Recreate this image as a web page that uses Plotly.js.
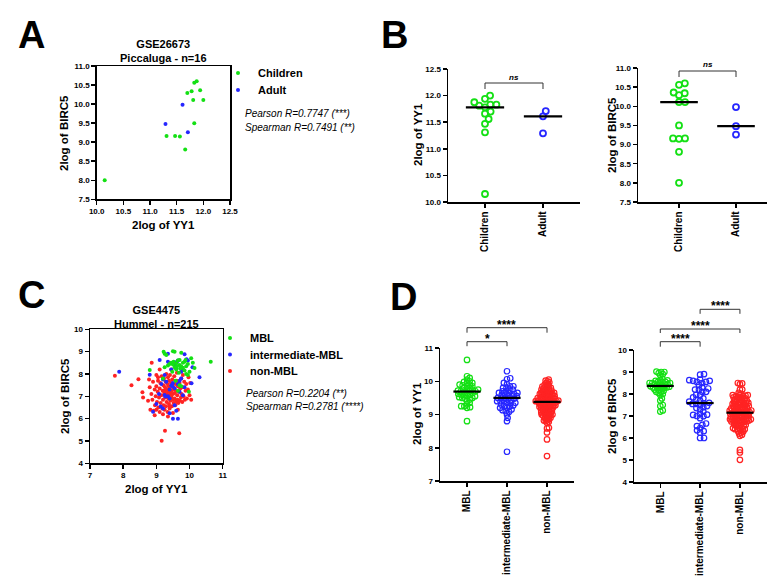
<!DOCTYPE html>
<html>
<head>
<meta charset="utf-8">
<script src="https://cdn.plot.ly/plotly-3.0.1.min.js"></script>
<style>body{margin:0;background:#fff}#chart{width:784px;height:587px}</style>
</head>
<body>
<div id="chart"></div>
<script>
// ---- GSE26673 (Piccaluga, n=16) ----
let childYY1 = [10.15, 11.875, 11.83, 11.78, 11.70, 11.94, 11.81, 12.00, 11.83, 11.31, 11.47, 11.56, 11.66]
let childBIRC5 = [8.00, 10.60, 10.56, 10.34, 10.29, 10.36, 10.11, 10.11, 9.50, 9.16, 9.16, 9.15, 8.81]
let adultYY1 = [11.61, 11.29, 11.71]
let adultBIRC5 = [9.98, 9.48, 9.26]

// ---- GSE4475 (Hummel, n=215) ----
let mblYY1 = [10.64, 8.80, 9.22, 9.25, 9.50, 9.55, 9.75, 9.30, 10.05, 10.15,
	9.85, 9.45, 9.40, 9.50, 9.60, 9.70, 9.80, 9.90, 9.65, 9.55,
	9.75, 9.95, 9.35, 9.70, 9.60, 9.85, 9.72, 10.00, 9.48, 9.68,
	9.90, 9.25, 9.80, 9.20, 9.95, 9.58, 9.70, 9.75, 9.98, 9.65,
	10.10, 9.88, 9.52, 9.62]
let mblBIRC5 = [8.55, 8.18, 9.00, 8.90, 9.02, 9.00, 8.95, 8.85, 8.70, 8.27,
	8.55, 8.50, 8.45, 8.42, 8.48, 8.40, 8.50, 8.35, 8.60, 8.30,
	8.33, 8.45, 8.38, 8.62, 8.20, 8.15, 8.25, 8.10, 8.10, 8.05,
	8.00, 8.30, 8.28, 7.80, 7.95, 7.70, 7.50, 7.45, 7.20, 7.25,
	8.50, 8.62, 8.55, 8.35]
let interYY1 = [7.88, 9.10, 9.35, 9.85, 9.91, 10.30, 10.06, 8.80, 9.35, 9.60,
	9.75, 9.25, 9.27, 9.55, 9.13, 9.40, 9.50, 9.65, 8.90, 9.00,
	10.09, 9.95, 9.80, 9.45, 9.50, 9.55, 9.70, 9.20, 9.45, 9.65,
	9.30, 9.60, 9.40, 9.85, 9.08, 9.50, 9.75, 9.35, 9.55, 9.70,
	9.20, 9.62, 9.48, 9.80, 9.25, 9.40, 9.65, 9.15]
let interBIRC5 = [8.10, 8.63, 8.90, 8.88, 8.66, 7.85, 7.58, 7.96, 8.55, 8.25,
	7.80, 7.06, 6.99, 7.36, 6.54, 6.24, 6.00, 6.00, 6.31, 6.66,
	8.30, 8.60, 7.05, 7.50, 7.60, 8.40, 7.20, 7.75, 8.20, 7.55,
	7.65, 6.35, 6.90, 7.40, 7.10, 8.50, 8.10, 7.00, 6.60, 7.70,
	6.45, 8.55, 7.45, 8.20, 7.95, 7.30, 8.60, 7.55]
let nonYY1 = [7.75, 8.25, 8.46, 8.58, 8.60, 8.86, 9.26, 9.69, 9.16, 9.40, 9.45,
	8.75, 8.80, 8.82, 8.85, 8.88, 8.90, 8.92, 8.95, 8.96, 8.98,
	9.00, 9.00, 9.02, 9.04, 9.05, 9.06, 9.08, 9.10, 9.10, 9.12,
	9.13, 9.15, 9.16, 9.18, 9.19, 9.20, 9.21, 9.22, 9.23, 9.24,
	9.25, 9.26, 9.27, 9.28, 9.29, 9.30, 9.30, 9.31, 9.32, 9.33,
	9.34, 9.35, 9.35, 9.36, 9.37, 9.38, 9.38, 9.39, 9.40, 9.40,
	9.41, 9.42, 9.43, 9.44, 9.45, 9.46, 9.47, 9.48, 9.48, 9.49,
	9.50, 9.51, 9.52, 9.53, 9.54, 9.55, 9.56, 9.57, 9.58, 9.59,
	9.60, 9.61, 9.62, 9.63, 9.64, 9.65, 9.66, 9.68, 9.70, 9.71,
	9.72, 9.74, 9.75, 9.76, 9.78, 9.80, 9.82, 9.84, 9.86, 9.88,
	9.90, 9.92, 9.95, 9.97, 10.00, 10.02, 10.05, 9.20, 9.50, 9.10,
	9.00, 8.95, 9.35, 9.55, 9.62, 9.80, 8.78, 9.45, 9.25, 9.65,
	9.05, 9.40]
let nonBIRC5 = [7.92, 7.50, 7.76, 7.18, 6.95, 8.50, 5.46, 5.34, 5.01, 8.48, 8.20,
	6.80, 7.40, 6.40, 7.10, 6.85, 7.65, 6.35, 7.30, 6.60, 7.00,
	7.45, 6.40, 6.75, 7.20, 7.70, 6.50, 6.95, 7.35, 6.30, 7.60,
	6.70, 7.05, 7.90, 6.45, 7.25, 6.85, 7.50, 6.60, 7.80, 7.15,
	6.40, 7.40, 6.95, 7.65, 6.55, 7.30, 8.00, 6.75, 7.10, 7.55,
	6.30, 7.20, 7.85, 6.90, 7.45, 6.65, 7.70, 7.05, 6.45, 7.35,
	7.95, 6.80, 7.15, 7.60, 6.95, 7.25, 6.55, 7.50, 7.75, 6.85,
	7.10, 7.40, 6.70, 7.30, 7.90, 6.90, 7.15, 6.60, 7.55, 6.80,
	7.25, 7.70, 6.75, 7.05, 6.85, 7.45, 6.70, 7.20, 7.60, 6.80,
	7.35, 6.95, 7.80, 7.10, 6.75, 7.40, 7.00, 7.65, 6.85, 7.25,
	7.55, 6.90, 7.30, 7.85, 7.05, 7.60, 6.85, 6.20, 6.25, 8.20,
	7.95, 6.15, 6.10, 8.45, 8.05, 7.95, 7.75, 7.00, 7.25, 6.40,
	7.85, 6.55]

let ageGroups = ["Children", "Adult"]
let mblGroups = ["MBL", "intermediate-MBL", "non-MBL"]

let GREEN = "#14e014"
let BLUE = "#2626ff"
let RED = "#ff2323"
let FONT = "Liberation Sans, Arial, sans-serif"

const W = 784, H = 587

//Panel boxes in pixels: left, right, top, bottom of the plot area, plus axis ranges.
let panels = {
	A: {n: "", l: 96.7, r: 230, t: 66, b: 199.3, xr: [10, 12.5], yr: [7.5, 11]},
	B1: {n: "2", l: 448, r: 580, t: 69, b: 202, xr: [-0.638, 1.638], yr: [10, 12.5]},
	B2: {n: "3", l: 638, r: 767, t: 68, b: 202, xr: [-0.72, 1.544], yr: [7.5, 11]},
	C: {n: "4", l: 90, r: 222.7, t: 329.3, b: 463.3, xr: [7, 11], yr: [4, 10]},
	D1: {n: "5", l: 440, r: 574, t: 348, b: 481, xr: [-0.675, 2.675], yr: [7, 11]},
	D2: {n: "6", l: 634, r: 767, t: 350, b: 482, xr: [-0.66, 2.68], yr: [4, 10]},
}

function pxPerX(p) { return (p.r - p.l) / (p.xr[1] - p.xr[0]) }
function pxPerY(p) { return (p.b - p.t) / (p.yr[1] - p.yr[0]) }
function catPx(p, i) { return p.l + (i - p.xr[0]) * pxPerX(p) }

function median(vals) {
	let s = vals.slice().sort((a, b) => a - b)
	let m = Math.floor(s.length / 2)
	return s.length % 2 ? s[m] : (s[m - 1] + s[m]) / 2
}

//Beeswarm: pixel offsets so that markers don't sit on top of each other.
function swarm(vals, d, p) {
	let ky = pxPerY(p)
	let order = vals.map((v, i) => i).sort((a, b) => vals[a] - vals[b])
	let placed = []
	let off = new Array(vals.length)
	order.forEach((i) => {
		let y = vals[i] * ky
		let cands = [0]
		placed.forEach((q) => {
			let dy = Math.abs(q.y - y)
			if (dy < d) {
				let dx = Math.sqrt(d * d - dy * dy)
				cands.push(q.x + dx, q.x - dx)
			}
		})
		cands.sort((a, b) => Math.abs(a) - Math.abs(b))
		let x = cands.find((c) => placed.every((q) => (q.x - c) ** 2 + (q.y - y) ** 2 >= d * d - 1e-6))
		placed.push({x: x, y: y})
		off[i] = x
	})
	return off
}

//Shrink spacing until the swarm fits in +-maxPx (GraphPad keeps columns narrow).
function fitSwarm(vals, d, p, maxPx) {
	let off = swarm(vals, d, p)
	while (Math.max(...off.map(Math.abs)) > maxPx && d > 0.5) {
		d *= 0.93
		off = swarm(vals, d, p)
	}
	return off.map((o) => o / pxPerX(p))
}

let data = []

let legendNames = ["legend", "legend2", "legend3", "legend4", "legend5"]
function scatterTrace(p, xs, ys, color, name, legend) {
	return {
		type: "scatter", mode: "markers", x: xs, y: ys, name: name,
		xaxis: "x" + p.n, yaxis: "y" + p.n,
		marker: {color: color, size: 4},
		showlegend: true, legend: legend, cliponaxis: false,
	}
}

data.push(scatterTrace(panels.A, childYY1, childBIRC5, GREEN, "Children", "legend"))
data.push(scatterTrace(panels.A, adultYY1, adultBIRC5, BLUE, "Adult", "legend2"))
data.push(scatterTrace(panels.C, nonYY1, nonBIRC5, RED, "non-MBL", "legend5"))
data.push(scatterTrace(panels.C, interYY1, interBIRC5, BLUE, "intermediate-MBL", "legend4"))
data.push(scatterTrace(panels.C, mblYY1, mblBIRC5, GREEN, "MBL", "legend3"))

function dotPlot(p, groups, colors, d, maxPx, size, lw, halfW) {
	groups.forEach((vals, i) => {
		let off = fitSwarm(vals, d, p, maxPx)
		data.push({
			type: "scatter", mode: "markers",
			x: vals.map((v, k) => i + off[k]), y: vals,
			xaxis: "x" + p.n, yaxis: "y" + p.n, showlegend: false, cliponaxis: false,
			marker: {symbol: "circle-open", color: colors[i], size: size, line: {width: lw}},
		})
	})
	groups.forEach((vals, i) => {
		let m = median(vals)
		data.push({
			type: "scatter", mode: "lines", x: [i - halfW, i + halfW], y: [m, m],
			xaxis: "x" + p.n, yaxis: "y" + p.n, showlegend: false,
			line: {color: "black", width: 2.2},
		})
	})
}

dotPlot(panels.B1, [childYY1, adultYY1], [GREEN, BLUE], 6, 14, 6, 1.8, 0.33)
dotPlot(panels.B2, [childBIRC5, adultBIRC5], [GREEN, BLUE], 6, 14, 6, 1.8, 0.33)
dotPlot(panels.D1, [mblYY1, interYY1, nonYY1], [GREEN, BLUE, RED], 4.2, 11.5, 5.5, 1.2, 0.34)
dotPlot(panels.D2, [mblBIRC5, interBIRC5, nonBIRC5], [GREEN, BLUE, RED], 4.2, 11.5, 5.5, 1.2, 0.34)

let layout = {
	width: W, height: H,
	margin: {l: 0, r: 0, t: 0, b: 0},
	paper_bgcolor: "white", plot_bgcolor: "rgba(0,0,0,0)",
	font: {family: FONT, color: "black"},
	shapes: [],
	annotations: [],
}

//One legend per entry so each line sits where the reference has it: [left px, text centre px]
let legendSpots = [[218, 73], [218, 90], [210, 338], [210, 354.5], [210, 371]]
legendNames.forEach((name, i) => {
	layout[name] = {
		x: legendSpots[i][0] / W, y: 1 - (legendSpots[i][1] - 14.5) / H, xanchor: "left", yanchor: "top",
		font: {family: FONT, size: 11, weight: "bold"}, bgcolor: "rgba(0,0,0,0)", itemsizing: "trace",
	}
})

for (let key in panels) {
	let p = panels[key]
	let base = {
		showline: true, linecolor: "black", linewidth: 1.5,
		ticks: "outside", ticklen: 4, tickwidth: 1.5, tickcolor: "black",
		showgrid: false, zeroline: false, fixedrange: true,
		tickfont: {family: FONT, size: 8, weight: "bold", color: "black"},
	}
	let xa = Object.assign({}, base, {domain: [p.l / W, p.r / W], range: p.xr, anchor: "y" + p.n})
	let ya = Object.assign({}, base, {domain: [1 - p.b / H, 1 - p.t / H], range: p.yr, anchor: "x" + p.n})
	layout["xaxis" + p.n] = xa
	layout["yaxis" + p.n] = ya
}
layout.xaxis = Object.assign(layout.xaxis, {dtick: 0.5, tick0: 10, tickformat: ".1f", mirror: true})
layout.yaxis = Object.assign(layout.yaxis, {dtick: 0.5, tick0: 7.5, tickformat: ".1f", mirror: true})
layout.xaxis4 = Object.assign(layout.xaxis4, {dtick: 1, tick0: 7, mirror: true})
layout.yaxis4 = Object.assign(layout.yaxis4, {dtick: 1, tick0: 4, mirror: true})
layout.yaxis2 = Object.assign(layout.yaxis2, {dtick: 0.5, tick0: 10, tickformat: ".1f"})
layout.yaxis3 = Object.assign(layout.yaxis3, {dtick: 0.5, tick0: 7.5, tickformat: ".1f"})
layout.yaxis5 = Object.assign(layout.yaxis5, {dtick: 1, tick0: 7})
layout.yaxis6 = Object.assign(layout.yaxis6, {dtick: 1, tick0: 4})
let catFont = {family: FONT, size: 10, weight: "bold", color: "black"}
;["2", "3"].forEach((n) => {
	Object.assign(layout["xaxis" + n], {tickvals: [0, 1], ticktext: ageGroups, tickangle: -90, tickfont: catFont})
})
;["5", "6"].forEach((n) => {
	Object.assign(layout["xaxis" + n], {tickvals: [0, 1, 2], ticktext: mblGroups, tickangle: -90, tickfont: catFont})
})

function text(x, y, t, size, opts) {
	layout.annotations.push(Object.assign({
		x: x / W, y: 1 - y / H, xref: "paper", yref: "paper", text: t, showarrow: false,
		xanchor: "center", yanchor: "middle",
		font: {family: FONT, size: size, color: "black", weight: "bold"},
	}, opts || {}))
}

//Panel letters
text(31, 35, "A", 38)
text(394, 35, "B", 38)
text(32, 295, "C", 38)
text(403, 297, "D", 38)

//Titles
text(163, 51, "GSE26673<br>Piccaluga - n=16", 11)
text(156, 317, "GSE4475<br>Hummel - n=215", 11)

//Axis titles
text(163, 225, "2log of YY1", 11.5)
text(64, 133, "2log of BIRC5", 11.5, {textangle: -90})
text(418, 135, "2log of YY1", 11.5, {textangle: -90})
text(612, 135, "2log of BIRC5", 11.5, {textangle: -90})
text(156, 489, "2log of YY1", 11.5)
text(65, 396, "2log of BIRC5", 11.5, {textangle: -90})
text(417, 414, "2log of YY1", 11.5, {textangle: -90})
text(612, 416, "2log of BIRC5", 11.5, {textangle: -90})

//Correlations
let italic = {family: FONT, size: 10, color: "black", style: "italic", weight: "normal"}
text(243, 113, "Pearson R=0.7747 (***)", 10, {xanchor: "left", font: italic})
text(243, 127, "Spearman R=0.7491 (**)", 10, {xanchor: "left", font: italic})
text(244, 393, "Pearson R=0.2204 (**)", 10, {xanchor: "left", font: italic})
text(244, 406, "Spearman R=0.2781 (****)", 10, {xanchor: "left", font: italic})

//Significance brackets: panel, from, to, bar y (px), tip length, label
function bracket(p, i, j, yBar, tip, label, size, dy) {
	let x0 = catPx(p, i) / W, x1 = catPx(p, j) / W
	let yb = 1 - yBar / H, yt = 1 - (yBar + tip) / H
	layout.shapes.push({
		type: "path", xref: "paper", yref: "paper",
		path: `M ${x0},${yt} L ${x0},${yb} L ${x1},${yb} L ${x1},${yt}`,
		line: {color: "#333", width: 1},
	})
	text((catPx(p, i) + catPx(p, j)) / 2, yBar - dy, label, size)
}
bracket(panels.B1, 0, 1, 83, 6, "<i>ns</i>", 8, 6)
bracket(panels.B2, 0, 1, 71, 6, "<i>ns</i>", 8, 6)
bracket(panels.D1, 0, 1, 341.7, 4.5, "*", 12, 3)
bracket(panels.D1, 0, 2, 327.7, 5, "****", 12, 3)
bracket(panels.D2, 0, 1, 341.7, 5, "****", 12, 3)
bracket(panels.D2, 0, 2, 329, 4, "****", 12, 3)
bracket(panels.D2, 1, 2, 309.3, 4.5, "****", 12, 3)

Plotly.newPlot("chart", data, layout, {displayModeBar: false, staticPlot: true})
</script>
</body>
</html>
